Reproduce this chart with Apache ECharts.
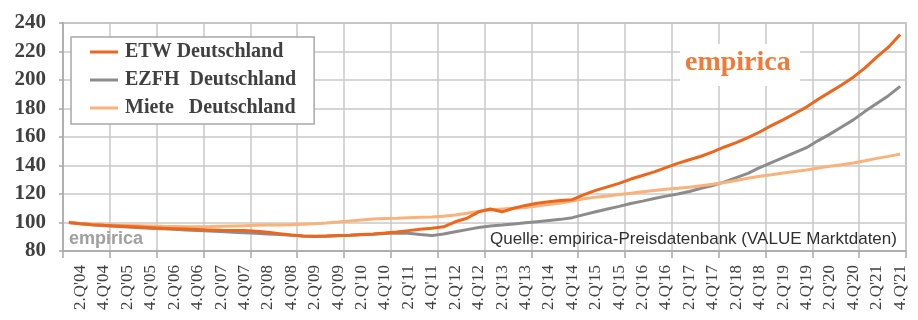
<!DOCTYPE html>
<html><head><meta charset="utf-8">
<script src="https://cdn.jsdelivr.net/npm/echarts@6/dist/echarts.min.js"></script>
<style>html,body{margin:0;padding:0;background:#fff}#c{width:918px;height:320px}</style>
</head><body><div id="c"></div>
<script>
const years = ['04','05','06','07','08','09','10','11','12','13','14','15','16','17','18','19','20','21'];
const categories = [];
years.forEach(y => { for (let q = 1; q <= 4; q++) categories.push(q + ".Q'" + y); });

const yTicks = [80, 100, 120, 140, 160, 180, 200, 220, 240];

const etw = [
  100, 99.2, 98.5, 98,
  97.6, 97.2, 96.8, 96.4,
  96, 95.7, 95.4, 95.1,
  94.8, 94.5, 94.3, 94.4,
  93.8, 93.2, 92.2, 91.2,
  90.6, 90.4, 90.6, 90.8,
  91, 91.5, 92, 92.6,
  93.4, 94.3, 95.2, 96,
  97, 100.5, 103, 107.5,
  109.5, 107.5, 110, 112,
  113.5, 114.5, 115.5, 116,
  119.5, 122.5, 125, 127.5,
  130.5, 133, 135.5, 138.5,
  141.5, 144, 146.5, 149.5,
  153, 156, 159.5, 163.5,
  168, 172, 176.5, 181,
  186.5, 191.5, 196.5, 202,
  208.5, 216, 223, 232
];
const ezfh = [
  100, 99.2, 98.5, 97.8,
  97.3, 96.8, 96.4, 96,
  95.6, 95.2, 94.8, 94.4,
  94, 93.6, 93.2, 92.8,
  92.4, 92, 91.5, 91,
  90.5, 90.2, 90.4, 90.7,
  91, 91.4, 91.8, 92.3,
  92.6, 92.4, 91.5, 90.8,
  92, 93.5, 95, 96.5,
  97.5, 98.2, 99, 99.8,
  100.6, 101.4, 102.2, 103.4,
  105.5, 107.5, 109.5, 111.3,
  113.3, 115, 116.8, 118.5,
  120, 121.8, 124, 126,
  128.5, 131.5, 134.5, 138.5,
  142, 145.5, 149, 152.5,
  157.5, 162, 167, 172,
  178, 183.5, 189, 195.5
];
const miete = [
  100, 99.3, 98.8, 98.4,
  98.1, 97.9, 97.7, 97.5,
  97.3, 97.2, 97.1, 97.1,
  97.2, 97.4, 97.6, 97.8,
  98, 98.2, 98.3, 98.5,
  98.8, 99.2, 99.7, 100.3,
  101, 101.8, 102.5, 102.8,
  103, 103.3, 103.6, 103.9,
  104.4, 105.3, 106.5, 107.8,
  108.8, 109.5, 110, 110.6,
  111.6, 112.6, 113.7, 115,
  116.7, 117.8, 118.6, 119.6,
  120.6, 121.6, 122.5, 123.3,
  124, 124.8, 125.8, 126.8,
  128, 129.5, 131, 132.5,
  133.5, 134.7, 135.8, 136.9,
  138.2, 139.4, 140.6, 141.8,
  143.3, 145, 146.4, 148
];

const seriesNames = ['ETW Deutschland', 'EZFH  Deutschland', 'Miete   Deutschland'];
const colors = { etw: '#EE661C', ezfh: '#8C8C8C', miete: '#F8B27A' };

const chart = echarts.init(document.getElementById('c'), null, { renderer: 'canvas' });
const serif = '"Liberation Serif", "DejaVu Serif", serif';
const gridColor = '#C8C8C8';

chart.setOption({
  animation: false,
  backgroundColor: '#fff',
  grid: { left: 63, right: 12, top: 23, bottom: 69, show: true, borderColor: '#A8A8A8', borderWidth: 1.5, backgroundColor: 'transparent' },
  legend: {
    data: seriesNames,
    orient: 'vertical',
    left: 71, top: 37,
    backgroundColor: '#fff',
    borderColor: '#A8A8A8', borderWidth: 1.5, borderRadius: 0,
    padding: [5, 18, 6, 19],
    itemGap: 8,
    itemWidth: 28, itemHeight: 3,
    icon: 'rect',
    textStyle: { fontFamily: serif, fontSize: 20, fontWeight: 'bold', color: '#404040', padding: [0, 0, 0, 2] }
  },
  xAxis: {
    type: 'category',
    data: categories,
    boundaryGap: true,
    axisLine: { lineStyle: { color: '#A8A8A8', width: 1.5 } },
    axisTick: { show: true, interval: 3, length: 7, lineStyle: { color: '#A8A8A8', width: 1.5 } },
    splitLine: { show: true, interval: 3, lineStyle: { color: gridColor, width: 1.5 } },
    axisLabel: {
      interval: (i) => i % 2 === 1,
      rotate: 90,
      margin: 14,
      fontFamily: serif, fontSize: 17, color: '#404040'
    }
  },
  yAxis: {
    type: 'value',
    min: yTicks[0], max: yTicks[yTicks.length - 1], interval: 20,
    axisLine: { show: true, lineStyle: { color: '#A8A8A8', width: 1.5 } },
    axisTick: { show: true, length: 4, lineStyle: { color: '#A8A8A8', width: 1.5 } },
    splitLine: { show: true, lineStyle: { color: gridColor, width: 1.5 } },
    axisLabel: { margin: 17, fontFamily: serif, fontSize: 21, fontWeight: 'bold', color: '#404040' }
  },
  series: [
    { name: seriesNames[1], type: 'line', data: ezfh, symbol: 'none', lineStyle: { color: colors.ezfh, width: 3 }, itemStyle: { color: colors.ezfh }, z: 2 },
    { name: seriesNames[2], type: 'line', data: miete, symbol: 'none', lineStyle: { color: colors.miete, width: 3 }, itemStyle: { color: colors.miete }, z: 3 },
    { name: seriesNames[0], type: 'line', data: etw, symbol: 'none', lineStyle: { color: colors.etw, width: 3 }, itemStyle: { color: colors.etw }, z: 4 }
  ],
  graphic: [
    { type: 'rect', left: 680, top: 44, shape: { width: 120, height: 42 }, style: { fill: '#fff' }, z: 10 },
    { type: 'text', left: 685, top: 49, style: { text: 'empirica', font: 'bold 28px "Liberation Serif", serif', fill: '#F07A38' }, z: 11 },
    { type: 'text', left: 69, top: 230, style: { text: 'empirica', font: 'bold 18px "Liberation Sans", Arial, sans-serif', fill: '#A0A0A0' }, z: 11 },
    { type: 'text', left: 490, top: 231, style: { text: 'Quelle: empirica-Preisdatenbank (VALUE Marktdaten)', font: '17px "Liberation Sans", Arial, sans-serif', fill: '#303030' }, z: 11 }
  ]
});
</script>
</body></html>
